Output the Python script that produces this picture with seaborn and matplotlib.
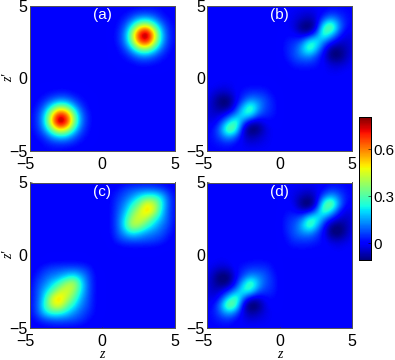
import numpy as np
import matplotlib
matplotlib.use('Agg')
import matplotlib.pyplot as plt
from matplotlib.transforms import ScaledTranslation
import seaborn as sns

# grid is z = -5..5 in steps of 0.5
# upper right quadrant, rows z' = 5 .. 0.5, columns z = 0.5 .. 5
quad_a = [
    [0, 0, 0, 0, 0, .01, .01, .01, 0, 0],
    [0, 0, .01, .03, .05, .05, .04, .02, 0, 0],
    [0, .01, .04, .11, .19, .21, .15, .06, .02, 0],
    [0, .02, .09, .26, .48, .54, .35, .15, .04, .01],
    [0, .03, .13, .40, .74, .86, .54, .21, .05, .01],
    [0, .03, .12, .36, .66, .74, .48, .19, .05, .01],
    [0, .01, .07, .19, .36, .40, .26, .11, .03, 0],
    [0, .01, .02, .07, .12, .13, .09, .04, .01, 0],
    [0, 0, .01, .01, .03, .03, .02, .01, 0, 0],
    [0, 0, 0, 0, 0, 0, 0, 0, 0, 0],
]
quad_b = [
    [0, 0, 0, 0, 0, 0, .01, .01, .01, 0],
    [0, -.01, -.02, -.03, -.01, .01, .04, .03, .02, .01],
    [0, -.02, -.05, -.07, -.03, .09, .17, .10, .03, .01],
    [0, -.03, -.11, -.13, -.04, .28, .38, .15, .03, 0],
    [.01, 0, -.04, -.03, .10, .31, .21, .07, -.02, -.01],
    [.03, .05, .09, .24, .26, .13, .04, -.03, -.04, -.02],
    [.04, .07, .17, .32, .19, .03, -.09, -.10, -.06, -.02],
    [.03, .08, .12, .14, .07, -.01, -.11, -.12, -.06, -.01],
    [.01, .04, .05, .05, .03, 0, -.04, -.05, -.03, 0],
    [0, .01, .01, .01, .01, 0, -.01, -.01, 0, 0],
]
quad_c = [
    [0, 0, 0, .01, .01, .01, .01, 0, 0, 0],
    [0, .02, .06, .08, .09, .10, .09, .07, .03, 0],
    [.01, .05, .09, .14, .22, .27, .28, .21, .08, .01],
    [.01, .07, .13, .24, .34, .50, .44, .26, .09, .01],
    [.01, .08, .17, .32, .44, .55, .46, .22, .08, .01],
    [.01, .09, .22, .40, .47, .42, .28, .18, .08, .01],
    [.01, .09, .24, .44, .40, .28, .20, .12, .07, 0],
    [.01, .08, .17, .24, .20, .15, .12, .09, .04, 0],
    [0, .05, .08, .09, .09, .08, .07, .05, .01, 0],
    [0, 0, .01, .01, .01, .01, .01, 0, 0, 0],
]
quad_d = [
    [0, 0, 0, 0, 0, 0, .01, .01, .01, 0],
    [0, -.01, -.02, -.03, -.01, .01, .05, .04, .02, .01],
    [0, -.02, -.06, -.08, -.03, .10, .18, .11, .03, .01],
    [.01, -.02, -.11, -.14, -.03, .29, .39, .16, .02, 0],
    [.02, .01, -.03, -.02, .11, .32, .22, .06, -.03, -.01],
    [.04, .06, .10, .25, .27, .14, .04, -.03, -.05, -.02],
    [.05, .08, .18, .33, .20, .03, -.09, -.11, -.07, -.02],
    [.04, .09, .13, .15, .08, 0, -.11, -.13, -.07, -.01],
    [.02, .06, .06, .06, .04, .01, -.04, -.05, -.03, 0],
    [.01, .02, .02, .02, .01, .01, 0, -.01, 0, 0],
]
panel_labels = ['(a)', '(b)', '(c)', '(d)']
axis_ticks = [-5, 0, 5]
cbar_ticks = [0, 0.3, 0.6]
cbar_labels = ['0', '0.3', '0.6']
vmin, vmax = -0.108, 0.805
background = -0.005


def full_grid(quad):
    # the two blobs sit point-symmetric about the origin
    q = np.array(quad, dtype=float)
    z = np.full((21, 21), background)
    z[:10, 11:] = q + background
    z[11:, :10] = q[::-1, ::-1] + background
    return z


plt.rcParams['font.family'] = ['Liberation Sans', 'DejaVu Sans']
plt.rcParams['axes.unicode_minus'] = True
fig = plt.figure(figsize=(3.95, 3.6), dpi=100)
W, H = 395.0, 360.0


def box(l, t, r, b):
    return [l / W, 1 - b / H, (r - l) / W, (b - t) / H]


positions = [box(29.5, 5.5, 175, 150.5), box(207, 5.5, 352, 150.5),
             box(29.5, 182.5, 175, 327.5), box(207, 182.5, 352, 327.5)]
cax = fig.add_axes(box(359, 117, 371, 260))

for i, quad in enumerate([quad_a, quad_b, quad_c, quad_d]):
    ax = fig.add_axes(positions[i])
    z = full_grid(quad)
    sns.heatmap(z, ax=ax, cmap='jet', vmin=vmin, vmax=vmax, square=False,
                cbar=i == 0, cbar_ax=cax if i == 0 else None,
                xticklabels=False, yticklabels=False)
    # smooth the read grid the same way the original surface looks
    ax.imshow(z, cmap='jet', vmin=vmin, vmax=vmax, interpolation='bicubic',
              extent=(0, 21, 21, 0), aspect='auto', zorder=2)
    ax.set_xlim(0.5, 20.5)
    ax.set_ylim(20.5, 0.5)
    ax.set_xticks([0.5, 10.5, 20.5])
    ax.set_yticks([20.5, 10.5, 0.5])
    ax.set_xticklabels([str(t).replace('-', '\u2212') for t in axis_ticks])
    ax.set_yticklabels([str(t).replace('-', '\u2212') for t in axis_ticks])
    ax.tick_params(direction='in', length=1.5, width=0.4, labelsize=11.5,
                   color='#333333', labelrotation=0)
    ax.tick_params(axis='x', pad=5)
    ax.tick_params(axis='y', pad=1.5)
    # the -5 under the axis sits a bit left of its tick
    lab = ax.get_xticklabels()[0]
    lab.set_transform(lab.get_transform() + ScaledTranslation(-4 / 100, 0, fig.dpi_scale_trans))
    for s in ax.spines.values():
        s.set_visible(True)
        s.set_linewidth(0.7)
        s.set_color('#555555')
    ax.text(0.5, 0.935, panel_labels[i], transform=ax.transAxes, color='white',
            fontsize=11, ha='center', va='center', zorder=3)
    if i in (0, 2):
        ax.set_ylabel("z\u2032", family='Liberation Serif', style='italic',
                      fontsize=10, labelpad=-4)
    if i in (2, 3):
        ax.set_xlabel('z', family='Liberation Serif', style='italic',
                      fontsize=10, labelpad=-1)

cax.set_yticks(cbar_ticks)
cax.set_yticklabels(cbar_labels)
cax.tick_params(direction='in', length=2, width=0.4, labelsize=10.8, pad=1.5)
for s in cax.spines.values():
    s.set_visible(True)
    s.set_linewidth(0.7)

fig.savefig('out.png', dpi=100)
